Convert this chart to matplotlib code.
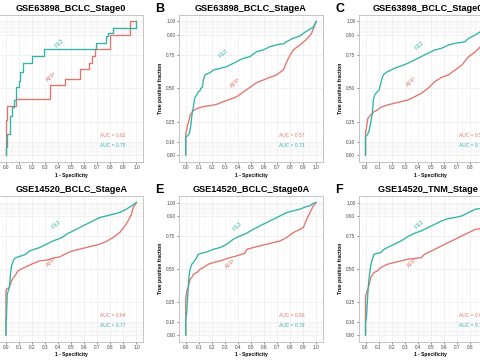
import matplotlib
matplotlib.use('Agg')
import matplotlib.pyplot as plt
from matplotlib.ticker import FixedLocator
import numpy as np

plt.rcParams['font.family'] = ['Liberation Sans', 'DejaVu Sans']

# panel titles / letters / AUC values
titles = ['GSE63898_BCLC_Stage0', 'GSE63898_BCLC_StageA', 'GSE63898_BCLC_Stage0A',
          'GSE14520_BCLC_StageA', 'GSE14520_BCLC_Stage0A', 'GSE14520_TNM_Stage I']
letters = ['A', 'B', 'C', 'D', 'E', 'F']
auc_afp = [0.62, 0.57, 0.58, 0.64, 0.68, 0.63]
auc_f12 = [0.75, 0.73, 0.72, 0.77, 0.79, 0.78]

# ROC curves (1 - specificity, true positive fraction)
a_f12_x = [0, 0, .01, .01, .03, .03, .05, .05, .06, .06, .08, .08, .10, .10, .11, .11,
           .13, .13, .20, .20, .29, .29, .69, .69, .77, .77, .78, .78, .82, .82, 1.0, 1.0]
a_f12_y = [0, .06, .06, .16, .16, .29, .29, .36, .36, .41, .41, .51, .51, .55, .55, .62,
           .62, .69, .69, .74, .74, .79, .79, .84, .84, .89, .89, .91, .91, .95, .95, 1.0]
a_afp_x = [0, 0, .01, .01, .08, .08, .34, .34, .45, .45, .57, .57, .64, .64, .66, .66,
           .68, .68, .80, .80, .95, .95, 1.0]
a_afp_y = [0, .26, .26, .37, .37, .42, .42, .52, .52, .57, .57, .64, .64, .69, .69, .74,
           .74, .79, .79, .90, .90, 1.0, 1.0]

b_f12_x = [0, 0, .013, .028, .038, .046, .051, .059, .066, .074, .084, .097, .110, .115,
           .128, .135, .148, .161, .186, .212, .263, .314, .365, .416, .441, .492, .543,
           .594, .645, .722, .747, .773, .824, .875, .901, .939, .977, 1.0]
b_f12_y = [0, .137, .142, .162, .212, .287, .324, .362, .411, .436, .449, .474, .481, .499,
           .506, .561, .599, .606, .616, .636, .648, .661, .686, .711, .723, .736, .773,
           .786, .810, .830, .830, .848, .873, .890, .910, .935, .955, 1.0]
b_afp_x = [0, 0, .008, .013, .023, .033, .059, .084, .135, .186, .237, .288, .339, .390,
           .441, .492, .543, .594, .645, .696, .747, .786, .824, .875, .926, .964, 1.0]
b_afp_y = [0, .162, .187, .224, .249, .299, .332, .347, .362, .369, .379, .399, .416, .436,
           .471, .506, .541, .561, .581, .599, .636, .723, .786, .823, .865, .910, 1.0]

c_f12_x = [0, 0, .013, .026, .039, .052, .060, .070, .091, .104, .117, .130, .142, .168,
           .220, .272, .324, .376, .427, .479, .531, .583, .635, .687, .738, .764, .790,
           .842, .881, .94, 1.0]
c_f12_y = [0, .137, .150, .175, .237, .312, .411, .449, .474, .486, .536, .586, .606, .623,
           .648, .666, .686, .711, .736, .761, .786, .798, .823, .835, .843, .848, .873,
           .898, .923, .96, 1.0]
c_afp_x = [0, 0, .008, .018, .039, .065, .091, .117, .168, .220, .272, .324, .376, .427,
           .479, .531, .583, .635, .687, .738, .790, .842, .894, .95, 1.0]
c_afp_y = [0, .162, .212, .274, .299, .324, .337, .357, .374, .387, .399, .411, .436, .461,
           .499, .549, .581, .599, .636, .673, .736, .773, .823, .90, 1.0]

d_f12_x = [0, 0, .005, .010, .018, .026, .031, .036, .043, .056, .069, .094, .120, .145,
           .184, .222, .260, .311, .362, .401, .439, .464, .515, .566, .617, .668, .719,
           .770, .821, .872, .923, .962, 1.0]
d_f12_y = [0, .058, .158, .309, .334, .359, .410, .472, .523, .560, .580, .590, .598, .606,
           .636, .648, .661, .686, .711, .724, .741, .761, .786, .812, .837, .862, .887,
           .899, .912, .925, .950, .975, 1.0]
d_afp_x = [0, 0, .005, .026, .043, .069, .094, .133, .171, .209, .260, .311, .362, .413,
           .464, .515, .566, .617, .668, .719, .770, .821, .872, .911, .936, .962, .974, 1.0]
d_afp_y = [0, .334, .347, .359, .410, .447, .485, .505, .523, .540, .560, .565, .580, .590,
           .616, .636, .648, .661, .673, .686, .706, .736, .774, .824, .862, .912, .962, 1.0]

e_f12_x = [0, 0, .008, .015, .023, .033, .046, .059, .084, .097, .122, .161, .212, .263,
           .314, .365, .416, .467, .518, .569, .620, .671, .722, .773, .824, .875, .926,
           .952, .977, 1.0]
e_f12_y = [0, .118, .169, .295, .421, .496, .534, .547, .584, .610, .617, .627, .647, .660,
           .685, .723, .748, .768, .798, .824, .849, .874, .899, .924, .937, .950, .970,
           .975, .995, 1.0]
e_afp_x = [0, 0, .008, .020, .033, .046, .059, .084, .110, .135, .173, .212, .263, .314,
           .390, .454, .467, .518, .569, .620, .671, .722, .773, .824, .875, .901, .926,
           .952, .977, 1.0]
e_afp_y = [0, .270, .332, .358, .421, .433, .458, .471, .496, .509, .534, .547, .559, .577,
           .597, .617, .647, .660, .673, .685, .698, .710, .736, .773, .798, .811, .874,
           .924, .975, 1.0]

f_f12_x = [0, 0, .008, .018, .026, .039, .052, .065, .091, .117, .142, .168, .220, .272,
           .324, .376, .427, .479, .531, .583, .635, .687, .738, .790, .842, .894, .95, 1.0]
f_f12_y = [0, .093, .144, .320, .421, .521, .572, .610, .617, .622, .647, .660, .685, .710,
           .743, .768, .786, .811, .836, .861, .879, .887, .899, .924, .950, .955, .975, 1.0]
f_afp_x = [0, 0, .013, .026, .039, .065, .091, .117, .168, .220, .272, .324, .376, .427,
           .453, .479, .531, .583, .635, .687, .738, .790, .842, .894, .95, 1.0]
f_afp_y = [0, .295, .332, .370, .433, .471, .484, .509, .534, .547, .559, .572, .577, .584,
           .610, .622, .647, .673, .698, .723, .748, .773, .798, .804, .88, 1.0]

f12_curves = [(a_f12_x, a_f12_y), (b_f12_x, b_f12_y), (c_f12_x, c_f12_y),
              (d_f12_x, d_f12_y), (e_f12_x, e_f12_y), (f_f12_x, f_f12_y)]
afp_curves = [(a_afp_x, a_afp_y), (b_afp_x, b_afp_y), (c_afp_x, c_afp_y),
              (d_afp_x, d_afp_y), (e_afp_x, e_afp_y), (f_afp_x, f_afp_y)]

# where the curve labels sit in each panel
f12_label_pos = [(0.41, 0.835), (0.29, 0.76), (0.41, 0.82), (0.39, 0.836), (0.395, 0.82), (0.41, 0.836)]
afp_label_pos = [(0.35, 0.586), (0.38, 0.54), (0.355, 0.55), (0.35, 0.55), (0.345, 0.534), (0.36, 0.547)]

AFP_COL = '#E3746B'
F12_COL = '#2FB4A8'

W, H = 480, 360
col_left = [-0.6, 179.2, 359.0]
row_top = [14.6, 195.9]
row_h = [147.1, 145.7]
ax_w = 143.6

fig = plt.figure(figsize=(4.8, 3.6), dpi=100)

for i in range(6):
    r, c = divmod(i, 3)
    left, top, h = col_left[c], row_top[r], row_h[r]
    ax = fig.add_axes([left / W, 1 - (top + h) / H, ax_w / W, h / H])

    ax.set_xlim(-0.05, 1.05)
    ax.set_ylim(-0.05, 1.05)
    xt = np.round(np.arange(0, 1.01, 0.1), 1)
    yt = [0, 0.1, 0.25, 0.5, 0.75, 0.9, 1.0]
    ax.set_xticks(xt)
    ax.set_xticklabels(['%.1f' % v for v in xt])
    ax.set_yticks(yt)
    ax.set_yticklabels(['%.2f' % v for v in yt])
    ax.xaxis.set_minor_locator(FixedLocator(np.arange(0.05, 1.0, 0.1)))
    ax.yaxis.set_minor_locator(FixedLocator(list(np.arange(0.01, 0.1, 0.01)) +
                                            list(np.arange(0.91, 1.0, 0.01))))
    ax.grid(which='major', color='#EBEBEB', lw=0.5)
    ax.grid(which='minor', color='#EFEFEF', lw=0.35)
    ax.set_axisbelow(True)
    ax.tick_params(which='major', length=1.5, width=0.4, pad=1.2, labelsize=3.4,
                   labelcolor='#444444', color='#333333')
    ax.tick_params(which='minor', length=0)
    for s in ax.spines.values():
        s.set_color('#BDBDBD')
        s.set_linewidth(0.6)

    ax.plot(afp_curves[i][0], afp_curves[i][1], color=AFP_COL, lw=0.95)
    ax.plot(f12_curves[i][0], f12_curves[i][1], color=F12_COL, lw=0.95)

    ax.text(f12_label_pos[i][0], f12_label_pos[i][1], 'F12', color=F12_COL, fontsize=4.4,
            rotation=42, ha='center', va='center')
    ax.text(afp_label_pos[i][0], afp_label_pos[i][1], 'AFP', color=AFP_COL, fontsize=4.4,
            rotation=42, ha='center', va='center')
    ax.text(0.815, 0.145, 'AUC = %.2f' % auc_afp[i], color=AFP_COL, fontsize=3.5,
            ha='center', va='center')
    ax.text(0.815, 0.07, 'AUC = %.2f' % auc_f12[i], color=F12_COL, fontsize=3.5,
            ha='center', va='center')

    ax.set_xlabel('1 - Specificity', fontsize=3.6, fontweight='bold', labelpad=1.5)
    ax.set_ylabel('True positive fraction', fontsize=3.6, fontweight='bold', labelpad=2)
    ax.set_title(titles[i], fontsize=6.6, fontweight='bold', pad=2.5)

    fig.text((left - 24) / W, 1 - (top - 12) / H, letters[i], fontsize=9,
             fontweight='bold', ha='left', va='top')

fig.savefig('out.png', dpi=100)
